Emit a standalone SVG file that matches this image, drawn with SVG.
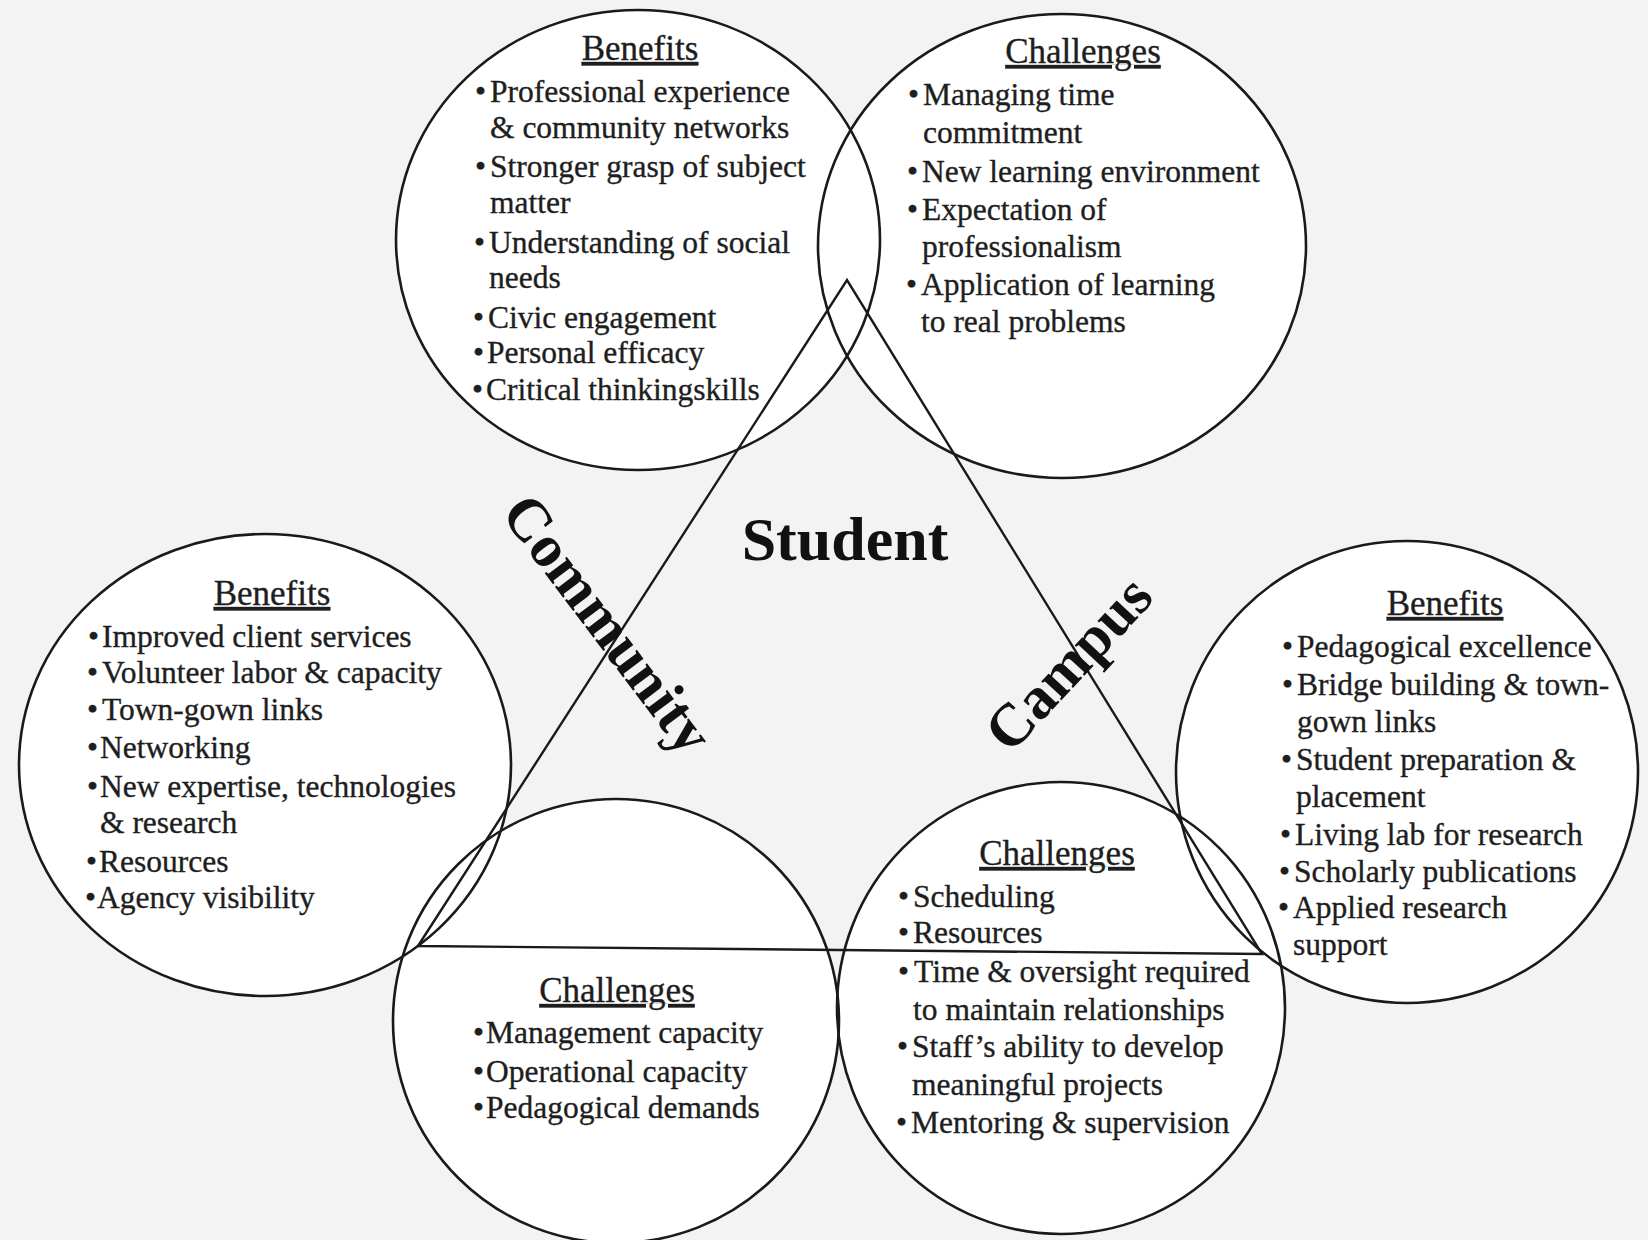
<svg xmlns="http://www.w3.org/2000/svg" width="1648" height="1240" viewBox="0 0 1648 1240">
<style>
.bg{fill:#f3f3f3}
.fillc{fill:#ffffff;stroke:none}
.ring{fill:none;stroke:#1a1a1a;stroke-width:2.6}
.edge{fill:none;stroke:#1a1a1a;stroke-width:2.4;stroke-linejoin:miter}
text{font-family:"Liberation Serif","Times New Roman",serif;fill:#1e1e1e;stroke:#1e1e1e;stroke-width:0.35}
.h{font-size:35px;text-anchor:middle;text-decoration:underline}
.t{font-size:31.5px}
.big{font-size:62px;font-weight:bold;text-anchor:middle;fill:#111;stroke:none}
.side{font-size:60px;font-weight:bold;text-anchor:middle;fill:#111;stroke:none}
</style>
<rect class="bg" x="0" y="0" width="1648" height="1240"/>
<g id="fills">
<ellipse class="fillc" cx="638" cy="240" rx="242" ry="230"/>
<ellipse class="fillc" cx="1062" cy="246" rx="244" ry="232"/>
<ellipse class="fillc" cx="265" cy="765" rx="246" ry="231"/>
<ellipse class="fillc" cx="1407" cy="772" rx="231" ry="231"/>
<ellipse class="fillc" cx="616" cy="1021" rx="223" ry="222"/>
<ellipse class="fillc" cx="1061" cy="1008" rx="224" ry="226"/>
</g>
<g id="connectors">
<path class="edge" d="M418 946 L847 280 L1262 954 Z"/>
</g>
<g id="student-benefits">
<ellipse class="ring" cx="638" cy="240" rx="242" ry="230"/>
<text class="h" x="640" y="60">Benefits</text>
<text class="t"><tspan x="475" y="102">•</tspan><tspan x="490" y="102">Professional experience</tspan></text>
<text class="t" x="490" y="138">&amp; community networks</text>
<text class="t"><tspan x="475" y="177">•</tspan><tspan x="490" y="177">Stronger grasp of subject</tspan></text>
<text class="t" x="490" y="213">matter</text>
<text class="t"><tspan x="474" y="253">•</tspan><tspan x="489" y="253">Understanding of social</tspan></text>
<text class="t" x="489" y="288">needs</text>
<text class="t"><tspan x="473" y="328">•</tspan><tspan x="488" y="328">Civic engagement</tspan></text>
<text class="t"><tspan x="473" y="363">•</tspan><tspan x="487" y="363">Personal efficacy</tspan></text>
<text class="t"><tspan x="472" y="400">•</tspan><tspan x="486" y="400">Critical thinkingskills</tspan></text>
</g>
<g id="student-challenges">
<ellipse class="ring" cx="1062" cy="246" rx="244" ry="232"/>
<text class="h" x="1083" y="63">Challenges</text>
<text class="t"><tspan x="908" y="105">•</tspan><tspan x="923" y="105">Managing time</tspan></text>
<text class="t" x="923" y="143">commitment</text>
<text class="t"><tspan x="907" y="182">•</tspan><tspan x="922" y="182">New learning environment</tspan></text>
<text class="t"><tspan x="907" y="220">•</tspan><tspan x="922" y="220">Expectation of</tspan></text>
<text class="t" x="922" y="257">professionalism</text>
<text class="t"><tspan x="906" y="295">•</tspan><tspan x="921" y="295">Application of learning</tspan></text>
<text class="t" x="921" y="332">to real problems</text>
</g>
<g id="community-benefits">
<ellipse class="ring" cx="265" cy="765" rx="246" ry="231"/>
<text class="h" x="272" y="605">Benefits</text>
<text class="t"><tspan x="88" y="647">•</tspan><tspan x="102" y="647">Improved client services</tspan></text>
<text class="t"><tspan x="87" y="683">•</tspan><tspan x="102" y="683">Volunteer labor &amp; capacity</tspan></text>
<text class="t"><tspan x="87" y="720">•</tspan><tspan x="102" y="720">Town-gown links</tspan></text>
<text class="t"><tspan x="87" y="758">•</tspan><tspan x="100" y="758">Networking</tspan></text>
<text class="t"><tspan x="87" y="797">•</tspan><tspan x="100" y="797">New expertise, technologies</tspan></text>
<text class="t" x="100" y="833">&amp; research</text>
<text class="t"><tspan x="86" y="872">•</tspan><tspan x="99" y="872">Resources</tspan></text>
<text class="t"><tspan x="85" y="908">•</tspan><tspan x="97" y="908">Agency visibility</tspan></text>
</g>
<g id="campus-benefits">
<ellipse class="ring" cx="1407" cy="772" rx="231" ry="231"/>
<text class="h" x="1445" y="615">Benefits</text>
<text class="t"><tspan x="1282" y="657">•</tspan><tspan x="1297" y="657">Pedagogical excellence</tspan></text>
<text class="t"><tspan x="1282" y="695">•</tspan><tspan x="1297" y="695">Bridge building &amp; town-</tspan></text>
<text class="t" x="1297" y="732">gown links</text>
<text class="t"><tspan x="1281" y="770">•</tspan><tspan x="1296" y="770">Student preparation &amp;</tspan></text>
<text class="t" x="1296" y="807">placement</text>
<text class="t"><tspan x="1280" y="845">•</tspan><tspan x="1295" y="845">Living lab for research</tspan></text>
<text class="t"><tspan x="1279" y="882">•</tspan><tspan x="1294" y="882">Scholarly publications</tspan></text>
<text class="t"><tspan x="1278" y="918">•</tspan><tspan x="1293" y="918">Applied research</tspan></text>
<text class="t" x="1293" y="955">support</text>
</g>
<g id="community-challenges">
<ellipse class="ring" cx="616" cy="1021" rx="223" ry="222"/>
<text class="h" x="617" y="1002">Challenges</text>
<text class="t"><tspan x="473" y="1043">•</tspan><tspan x="486" y="1043">Management capacity</tspan></text>
<text class="t"><tspan x="473" y="1082">•</tspan><tspan x="486" y="1082">Operational capacity</tspan></text>
<text class="t"><tspan x="473" y="1118">•</tspan><tspan x="486" y="1118">Pedagogical demands</tspan></text>
</g>
<g id="campus-challenges">
<ellipse class="ring" cx="1061" cy="1008" rx="224" ry="226"/>
<text class="h" x="1057" y="865">Challenges</text>
<text class="t"><tspan x="898" y="907">•</tspan><tspan x="913" y="907">Scheduling</tspan></text>
<text class="t"><tspan x="898" y="943">•</tspan><tspan x="913" y="943">Resources</tspan></text>
<text class="t"><tspan x="898" y="982">•</tspan><tspan x="914" y="982">Time &amp; oversight required</tspan></text>
<text class="t" x="913" y="1020">to maintain relationships</text>
<text class="t"><tspan x="897" y="1057">•</tspan><tspan x="912" y="1057">Staff’s ability to develop</tspan></text>
<text class="t" x="912" y="1095">meaningful projects</text>
<text class="t"><tspan x="896" y="1133">•</tspan><tspan x="911" y="1133">Mentoring &amp; supervision</tspan></text>
</g>
<g id="labels">
<text class="big" x="845" y="560">Student</text>
<text class="side" transform="translate(592 636) rotate(53)">Community</text>
<text class="side" transform="translate(1083 677) rotate(-47)">Campus</text>
</g>
</svg>
